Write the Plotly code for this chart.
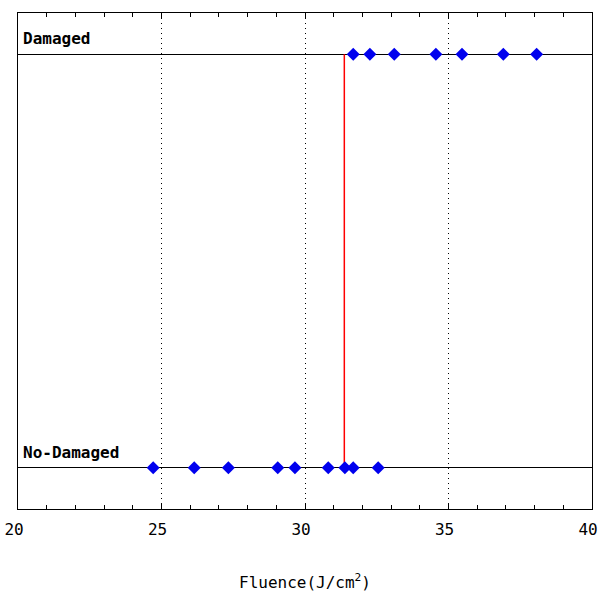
import plotly.graph_objects as go

# Data
damaged_fluence = [31.68, 32.26, 33.11, 34.56, 35.47, 36.91, 38.07]
nodamage_fluence = [24.71, 26.14, 27.33, 29.05, 29.65, 30.81, 31.39, 31.68, 32.55]
threshold = 31.37
state_levels = [0, 1]
state_labels = ["No-Damaged", "Damaged"]
x_ticks = [20, 25, 30, 35, 40]

fig = go.Figure()

# threshold line
fig.add_trace(go.Scatter(
    x=[threshold, threshold], y=state_levels, mode="lines",
    line=dict(color="#ff0000", width=1.5), showlegend=False, hoverinfo="skip"))

fig.add_trace(go.Scatter(
    x=nodamage_fluence, y=[state_levels[0]] * len(nodamage_fluence), mode="markers",
    marker=dict(symbol="diamond", size=10, color="#0000ee"), showlegend=False))
fig.add_trace(go.Scatter(
    x=damaged_fluence, y=[state_levels[1]] * len(damaged_fluence), mode="markers",
    marker=dict(symbol="diamond", size=10, color="#0000ee"), showlegend=False))

font_main = "DejaVu Sans Mono, monospace"

fig.update_layout(
    width=598, height=592,
    margin=dict(l=18, r=6, t=13, b=83, autoexpand=False),
    paper_bgcolor="white", plot_bgcolor="white",
    font=dict(family=font_main, color="black", size=14),
    xaxis=dict(
        range=[20, 40], tickvals=x_ticks, ticktext=[str(v) for v in x_ticks],
        automargin=False, ticklabeloverflow="allow",
        ticklabelshift=-4, ticklabelstandoff=6,
        showgrid=True, gridcolor="black", griddash="1px,4px", gridwidth=1,
        showline=True, linecolor="black", linewidth=1, mirror="allticks",
        ticks="inside", ticklen=6, tickcolor="black",
        minor=dict(dtick=1, ticks="inside", ticklen=4, tickcolor="black", showgrid=False),
        zeroline=False,
        tickfont=dict(family=font_main, size=16, color="black"),
        title=dict(text="Fluence(J/cm<sup>2</sup>)", standoff=40,
                   font=dict(family=font_main, size=16, color="black")),
    ),
    yaxis=dict(
        range=[-0.1, 1.1], tickvals=state_levels, showticklabels=False,
        automargin=False,
        showgrid=True, gridcolor="black", gridwidth=1,
        showline=True, linecolor="black", linewidth=1, mirror=True,
        ticks="", zeroline=False,
    ),
)

for lvl, lab in zip(state_levels, state_labels):
    fig.add_annotation(
        x=0, xref="paper", y=lvl, yref="y", text="<b>" + lab + "</b>",
        showarrow=False, xanchor="left", yanchor="bottom", xshift=3, yshift=4,
        font=dict(family=font_main, size=16, color="black"))

fig.write_html(
    "out.html",
    config={"displayModeBar": False},
    post_script="document.body.style.margin='0';document.body.style.overflow='hidden';",
)
